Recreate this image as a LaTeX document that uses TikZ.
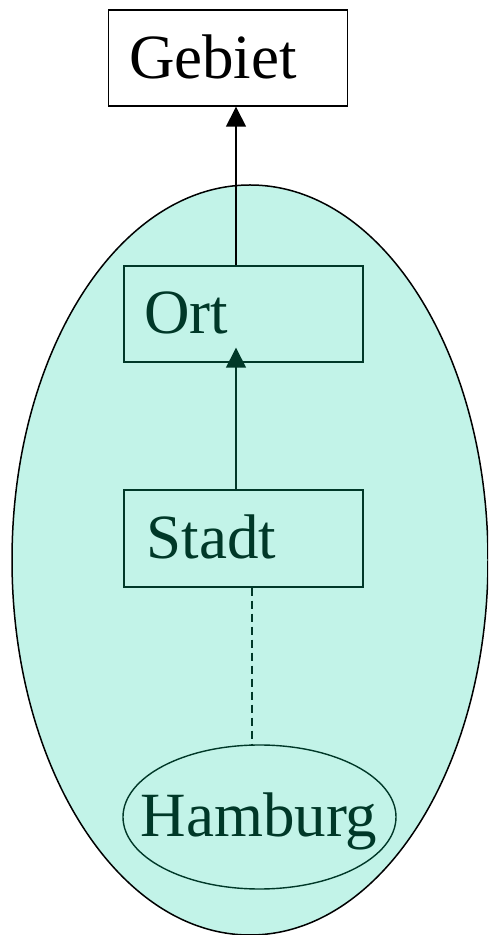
\documentclass[tikz,border=0pt]{standalone}
\usepackage{fontspec}
\setmainfont{Liberation Serif}
\usetikzlibrary{arrows.meta,shapes.geometric}
\definecolor{mint}{RGB}{194,243,232}
\definecolor{dgreen}{RGB}{0,56,40}
\begin{document}
\begin{tikzpicture}[x=1pt,y=1pt,
  box/.style={draw, line width=1.4pt, minimum width=239pt, minimum height=96pt, inner sep=0pt},
  lbl/.style={anchor=base west, inner sep=0pt, font=\fontsize{63}{70}\selectfont},
  tri/.style={-{Triangle[width=20pt,length=20pt]}}]
\useasboundingbox (0,0) rectangle (488,935);
\begin{scope}
\clip (0,0) rectangle (488,935);
\node[ellipse, draw, fill=mint, line width=1.5pt, minimum width=476pt, minimum height=750pt, inner sep=0pt] (outer) at (250,375) {};
\end{scope}
\node[box] (gebiet) at (228,877) {};
\node[lbl] (gebietT) at ([xshift=21pt,yshift=28pt]gebiet.south west) {Gebiet};
\node[box, draw=dgreen] (ort) at (243.5,621) {};
\node[lbl, text=dgreen] (ortT) at ([xshift=21pt,yshift=29pt]ort.south west) {Ort};
\node[box, draw=dgreen, minimum height=97pt] (stadt) at (243.5,396.5) {};
\node[lbl, text=dgreen] (stadtT) at ([xshift=23pt,yshift=29pt]stadt.south west) {Stadt};
\node[ellipse, draw=dgreen, line width=1.4pt, minimum width=273pt, minimum height=144pt, inner sep=0pt] (hamburg) at (259.5,118) {};
\node[anchor=base, inner sep=0pt, text=dgreen, font=\fontsize{63}{70}\selectfont] (hamburgT) at (259,98) {Hamburg};
\draw[tri, line width=1.4pt] ([xshift=-7.5pt]ort.north) -- ([xshift=-7.5pt]ort.north |- gebiet.south);
\draw[tri, line width=1.4pt, draw=dgreen, fill=dgreen] ([xshift=-7.5pt]stadt.north) -- ([xshift=-7.5pt,yshift=15pt]ort.south);
\draw[dgreen, line width=1.4pt, dash pattern=on 8pt off 5pt] (252,0 |- stadt.south) -- (252,0 |- hamburg.north);
\end{tikzpicture}
\end{document}
